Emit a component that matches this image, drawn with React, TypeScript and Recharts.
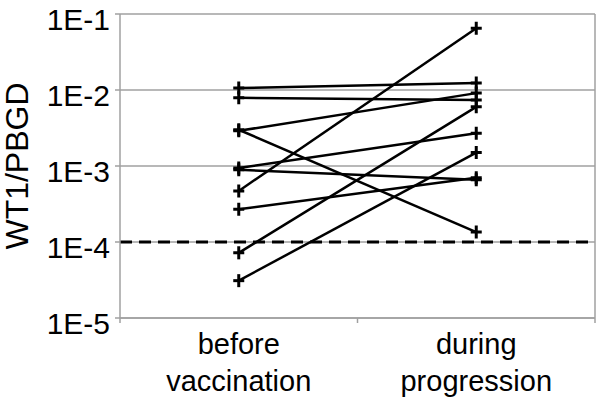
import React from 'react';
import { LineChart, Line, XAxis, YAxis, CartesianGrid, ReferenceLine } from 'recharts';

// Category labels (two lines each)
const categoryLines: string[][] = [
  ['before', 'vaccination'],
  ['during', 'progression'],
];

// WT1/PBGD values per patient
const beforeValues = [1.06e-2, 7.9e-3, 3.0e-3, 2.9e-3, 9.4e-4, 8.9e-4, 4.7e-4, 2.7e-4, 7.2e-5, 3.1e-5];
const duringValues = [1.24e-2, 7.4e-3, 1.35e-4, 9.1e-3, 2.7e-3, 6.6e-4, 6.5e-2, 7.0e-4, 6.0e-3, 1.5e-3];

const yTicks = [1e-5, 1e-4, 1e-3, 1e-2, 1e-1];
const yTickLabels = ['1E-5', '1E-4', '1E-3', '1E-2', '1E-1'];
const threshold = 1e-4;

const FONT = 'Liberation Sans, Arial, sans-serif';
const GRAY = '#a0a0a0';

const series = beforeValues.map((b, i) => [
  { x: 0.5, v: b },
  { x: 1.5, v: duringValues[i] },
]);

const PlusDot = (props: any) => {
  const { cx, cy } = props;
  if (cx == null || cy == null) return null;
  return (
    <g stroke="#000" strokeWidth={3}>
      <line x1={cx - 5.5} x2={cx + 5.5} y1={cy} y2={cy} />
      <line x1={cx} x2={cx} y1={cy - 6.5} y2={cy + 6.5} />
    </g>
  );
};

const XTick = (props: any) => {
  const { x, y, payload } = props;
  const v = payload.value;
  if (Number.isInteger(v)) {
    return <line x1={x} x2={x} y1={y} y2={y + 5} stroke={GRAY} strokeWidth={1.5} />;
  }
  const lines = categoryLines[Math.floor(v)];
  return (
    <g>
      {lines.map((t, k) => (
        <text
          key={k}
          x={x}
          y={y + 36 + k * 37}
          textAnchor="middle"
          fontFamily={FONT}
          fontSize={29}
          fill="#000"
        >
          {t}
        </text>
      ))}
    </g>
  );
};

const YTick = (props: any) => {
  const { x, y, payload } = props;
  const idx = yTicks.indexOf(payload.value);
  return (
    <text x={x} y={y + 16} textAnchor="end" fontFamily={FONT} fontSize={30} fill="#000">
      {idx >= 0 ? yTickLabels[idx] : ''}
    </text>
  );
};

const YTitle = (props: any) => {
  const vb = props.viewBox || { x: 0, y: 14, height: 304 };
  const cx = vb.x + 28;
  const cy = vb.y + vb.height / 2;
  return (
    <text
      x={cx}
      y={cy}
      transform={`rotate(-90 ${cx} ${cy})`}
      textAnchor="middle"
      fontFamily={FONT}
      fontSize={32}
      fill="#000"
    >
      WT1/PBGD
    </text>
  );
};

export default function App() {
  return (
    <div style={{ position: 'absolute', left: 0, top: 0, width: 600, height: 406, background: '#fff' }}>
      <LineChart width={600} height={406} margin={{ top: 14, right: 5, bottom: 0, left: 0 }}>
        <CartesianGrid horizontal vertical={false} stroke={GRAY} strokeWidth={1.5} />
        <XAxis
          xAxisId="x"
          type="number"
          dataKey="x"
          domain={[0, 2]}
          ticks={[0, 0.5, 1, 1.5, 2]}
          tick={<XTick />}
          tickLine={false}
          tickSize={0}
          tickMargin={0}
          axisLine={{ stroke: GRAY, strokeWidth: 1.5 }}
          height={88}
          interval={0}
        />
        <YAxis
          type="number"
          scale="log"
          domain={[1e-5, 1e-1]}
          ticks={yTicks}
          allowDataOverflow
          width={120}
          tick={<YTick />}
          tickSize={5}
          tickMargin={5}
          tickLine={{ stroke: GRAY, strokeWidth: 1.5 }}
          axisLine={{ stroke: GRAY, strokeWidth: 1.5 }}
          interval={0}
          label={<YTitle />}
        />
        <ReferenceLine xAxisId="x" x={2} stroke={GRAY} strokeWidth={1.5} />
        <ReferenceLine
          xAxisId="x"
          y={threshold}
          stroke="#000"
          strokeWidth={3}
          strokeDasharray="12 7"
        />
        {series.map((d, i) => (
          <Line
            key={i}
            xAxisId="x"
            data={d}
            dataKey="v"
            stroke="#000"
            strokeWidth={2.5}
            dot={<PlusDot />}
            activeDot={false}
            isAnimationActive={false}
          />
        ))}
      </LineChart>
    </div>
  );
}
